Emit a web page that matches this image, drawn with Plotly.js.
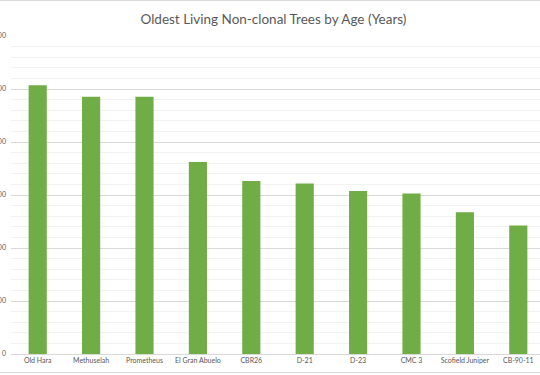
<!DOCTYPE html>
<html>
<head>
<meta charset="utf-8">
<script src="https://cdn.plot.ly/plotly-3.0.1.min.js"></script>
<style>
  html, body { margin: 0; padding: 0; width: 540px; height: 375px; overflow: hidden; background: #fff; }
  #frame { position: absolute; left: -30px; top: 0px; width: 590px; height: 373px; border: 1px solid #d9d9d9; box-sizing: border-box; }
  #chart { width: 588px; height: 371px; }
</style>
</head>
<body>
<div id="frame"><div id="chart"></div></div>
<script>
const trees = ["Old Hara", "Methuselah", "Prometheus", "El Gran Abuelo", "CBR26", "D-21", "D-23", "CMC 3", "Scofield Juniper", "CB-90-11"];
const ages = [5070, 4853, 4856, 3622, 3266, 3215, 3075, 3028, 2673, 2425];
const chartTitle = "Oldest Living Non-clonal Trees by Age (Years)";

const font = "Lato, 'Open Sans', sans-serif";

Plotly.newPlot("chart", [{
  type: "bar",
  x: trees,
  y: ages,
  marker: { color: "#70AD47" },
  hoverinfo: "x+y"
}], {
  width: 588,
  height: 371,
  margin: { l: 40, r: 14, t: 35, b: 18, pad: 0 },
  paper_bgcolor: "#ffffff",
  plot_bgcolor: "#ffffff",
  bargap: 0.66,
  showlegend: false,
  title: {
    text: chartTitle,
    x: 0.4915, xref: "paper", xanchor: "center",
    y: 0.9515, yref: "container", yanchor: "middle",
    font: { family: font, size: 13.5, color: "#595959" }
  },
  xaxis: {
    type: "category",
    showline: true, linecolor: "#d9d9d9", linewidth: 1,
    showgrid: false, ticks: "",
    tickfont: { family: font, size: 7, color: "#595959" },
    automargin: false
  },
  yaxis: {
    range: [0, 6000], dtick: 1000, tick0: 0,
    showline: false, zeroline: false,
    gridcolor: "#d9d9d9", gridwidth: 1,
    minor: { dtick: 200, showgrid: true, gridcolor: "#f2f2f2", gridwidth: 1 },
    ticks: "",
    tickfont: { family: font, size: 7, color: "#595959" },
    ticklabelstandoff: 4,
    automargin: false
  }
}, { staticPlot: true, displayModeBar: false });
</script>
</body>
</html>
